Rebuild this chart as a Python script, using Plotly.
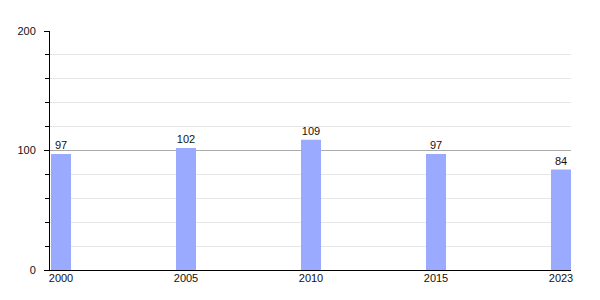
import plotly.graph_objects as go

years = ["2000", "2005", "2010", "2015", "2023"]
values = [97, 102, 109, 97, 84]

fig = go.Figure(go.Bar(
    x=years, y=values, width=0.16,
    marker=dict(color="#99aaff", line=dict(width=0)),
    text=[str(v) for v in values], textposition="outside",
    textfont=dict(family="Liberation Sans, Arial", size=11, color="#111"),
    cliponaxis=False,
))
fig.update_layout(
    width=600, height=300,
    margin=dict(l=50, r=29, t=31, b=30),
    plot_bgcolor="white", paper_bgcolor="white",
    showlegend=False,
    font=dict(family="Liberation Sans, Arial", size=11, color="#111"),
    xaxis=dict(type="category", range=[-0.088, 4.08], showline=True, linecolor="#000",
               linewidth=1, ticks="", showgrid=False, tickfont=dict(size=11, color="#111"),
               ticklabelstandoff=-2),
    yaxis=dict(range=[0, 200], tickvals=[0, 100, 200], showline=True, linecolor="#000",
               linewidth=1, ticks="outside", ticklen=5, tickcolor="#000",
               tickfont=dict(size=11, color="#111"),
               showgrid=True, gridcolor="#aaaaaa", gridwidth=1, zeroline=False,
               ticklabelstandoff=6,
               minor=dict(dtick=20, ticks="outside", ticklen=4, tickcolor="#000",
                          showgrid=True, gridcolor="#e6e6e6", gridwidth=1)),
)
fig.write_html("out.html")
